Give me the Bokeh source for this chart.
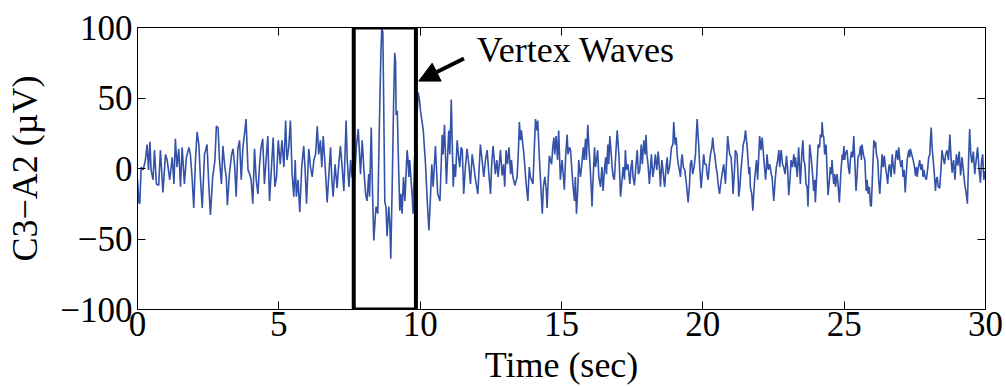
from bokeh.plotting import figure
from bokeh.models import (LinearAxis, FixedTicker, CustomJSTickFormatter, Range1d,
                          BoxAnnotation, Arrow, NormalHead, Label)
from bokeh.embed import file_html
from bokeh.resources import INLINE

# ---- signal: (time in s, C3-A2 in uV) ----
time_s = [
    0.00, 0.05, 0.08, 0.13, 0.20, 0.28, 0.34, 0.39, 0.44, 0.48, 0.55, 0.60, 0.67, 0.75, 0.81, 0.90,
    0.99, 1.05, 1.14, 1.23, 1.29, 1.34, 1.40, 1.46, 1.52, 1.58, 1.66, 1.73, 1.82, 1.87, 1.93, 1.99,
    2.05, 2.11, 2.17, 2.23, 2.29, 2.37,
    2.41, 2.46, 2.52, 2.58, 2.66, 2.74, 2.79, 2.85, 2.90, 2.97, 3.02, 3.09, 3.14, 3.18, 3.25, 3.33,
    3.38, 3.44, 3.49, 3.55, 3.61, 3.67, 3.73, 3.80, 3.84, 3.91, 3.97, 4.02, 4.08, 4.14, 4.20, 4.26,
    4.32, 4.37, 4.43, 4.49, 4.55, 4.61, 4.67, 4.74, 4.80, 4.86, 4.92, 4.98, 5.05,
    5.11, 5.18, 5.24, 5.29, 5.35, 5.41, 5.47, 5.53, 5.58, 5.62, 5.68, 5.74, 5.81, 5.88, 5.93, 5.98,
    6.06, 6.12, 6.18, 6.24, 6.30, 6.36, 6.41, 6.47, 6.52, 6.57, 6.64, 6.71, 6.77, 6.83, 6.87, 6.92,
    6.99, 7.06, 7.12, 7.18, 7.24, 7.30, 7.38,
    7.42, 7.48, 7.54, 7.59, 7.68, 7.74, 7.81, 7.89, 7.95, 8.01, 8.07, 8.12, 8.18, 8.21, 8.27, 8.31,
    8.36, 8.42, 8.44, 8.50, 8.56, 8.61, 8.64, 8.68, 8.71, 8.75, 8.79, 8.83, 8.87, 8.89, 8.93, 8.96,
    9.01, 9.06, 9.10, 9.13, 9.15, 9.19, 9.21, 9.24, 9.28, 9.32, 9.36, 9.41, 9.46, 9.50, 9.54, 9.57,
    9.60, 9.63, 9.67, 9.72, 9.75, 9.80, 9.86, 9.93, 9.98, 10.01,
    10.11, 10.19, 10.25, 10.31, 10.37, 10.41, 10.46, 10.54, 10.62, 10.70, 10.78, 10.81, 10.86, 10.93,
    11.01, 11.05, 11.10, 11.17, 11.21, 11.25, 11.31, 11.36, 11.40, 11.45, 11.49, 11.54, 11.60, 11.66,
    11.72, 11.78, 11.84, 11.90, 11.96, 12.04, 12.13, 12.19, 12.25, 12.31, 12.37, 12.43, 12.49, 12.53,
    12.58, 12.66,
    12.71, 12.76, 12.84, 12.90, 12.95, 12.99, 13.04, 13.09, 13.14, 13.20, 13.23, 13.28, 13.35, 13.43,
    13.48, 13.51, 13.55, 13.58, 13.67, 13.75, 13.81, 13.86, 13.90, 13.99, 14.03, 14.08, 14.13, 14.16,
    14.22, 14.27, 14.32, 14.36, 14.41, 14.46, 14.49, 14.53, 14.57, 14.65, 14.69, 14.73, 14.76, 14.81,
    14.86, 14.90, 14.96, 15.02, 15.07, 15.10, 15.15, 15.20, 15.23, 15.28,
    15.32, 15.36, 15.41, 15.46, 15.49, 15.53, 15.58, 15.61, 15.67, 15.72, 15.77, 15.80, 15.85, 15.88,
    15.93, 15.97, 16.00, 16.05, 16.08, 16.12, 16.17, 16.20, 16.24, 16.28, 16.32, 16.38, 16.43, 16.47,
    16.52, 16.56, 16.59, 16.64, 16.67, 16.71, 16.76, 16.79, 16.83, 16.87, 16.92, 16.97, 17.03, 17.09,
    17.13, 17.18, 17.23, 17.26, 17.30, 17.35, 17.42, 17.46, 17.50, 17.53, 17.58, 17.63, 17.68, 17.72,
    17.77, 17.82, 17.86, 17.91, 17.96,
    17.99, 18.02, 18.06, 18.11, 18.15, 18.18, 18.23, 18.28, 18.32, 18.37, 18.42, 18.47, 18.50, 18.55,
    18.58, 18.62, 18.65, 18.70, 18.74, 18.77, 18.82, 18.85, 18.89, 18.94, 18.97, 19.02, 19.06, 19.09,
    19.13, 19.17, 19.21, 19.24, 19.27, 19.31, 19.36, 19.42, 19.48, 19.53, 19.56, 19.60, 19.64, 19.69,
    19.74, 19.77, 19.80, 19.83, 19.86, 19.89, 19.94, 19.99, 20.03, 20.07, 20.12, 20.15, 20.19, 20.23,
    20.27, 20.32, 20.35, 20.39, 20.42, 20.47, 20.51, 20.54, 20.59,
    20.62, 20.68, 20.74, 20.80, 20.85, 20.88, 20.92, 20.95, 21.00, 21.04, 21.07, 21.12, 21.15, 21.21,
    21.25, 21.27, 21.31, 21.35, 21.39, 21.43, 21.47, 21.51, 21.57, 21.63, 21.66, 21.68, 21.73, 21.77,
    21.80, 21.84, 21.90, 21.94, 21.98, 22.01, 22.06, 22.10, 22.16, 22.22, 22.25, 22.27, 22.32, 22.37,
    22.42, 22.45, 22.51, 22.56, 22.60, 22.65, 22.69, 22.72, 22.77, 22.82, 22.86, 22.91, 22.96, 23.00,
    23.04, 23.09, 23.12, 23.17, 23.22, 23.26,
    23.28, 23.34, 23.39, 23.45, 23.50, 23.54, 23.57, 23.61, 23.65, 23.69, 23.72, 23.76, 23.78, 23.82,
    23.84, 23.89, 23.92, 23.96, 23.98, 24.03, 24.08, 24.13, 24.16, 24.20, 24.22, 24.25, 24.28, 24.31,
    24.36, 24.40, 24.43, 24.48, 24.51, 24.55, 24.57, 24.61, 24.63, 24.67, 24.69, 24.75, 24.79, 24.83,
    24.88, 24.93, 24.96, 24.99, 25.02, 25.04, 25.10, 25.15, 25.19, 25.22, 25.26, 25.30, 25.34, 25.38,
    25.42, 25.46, 25.49, 25.54, 25.58, 25.61, 25.63, 25.68, 25.73, 25.78, 25.81, 25.85, 25.89, 25.93,
    25.96, 26.00, 26.05, 26.08, 26.11, 26.14, 26.19, 26.22, 26.26, 26.31, 26.34, 26.38, 26.42, 26.46,
    26.50, 26.54, 26.58, 26.61, 26.66, 26.70, 26.73, 26.78, 26.81, 26.85, 26.90, 26.93, 26.97, 27.01,
    27.05, 27.08, 27.12, 27.16, 27.19, 27.23, 27.26, 27.29, 27.32, 27.34, 27.39, 27.44, 27.49, 27.52,
    27.56, 27.58, 27.63, 27.67, 27.72, 27.76, 27.79, 27.82, 27.86, 27.91, 27.96, 27.99, 28.03, 28.05,
    28.08, 28.11, 28.15, 28.19, 28.23, 28.26, 28.29, 28.33, 28.38, 28.43, 28.46, 28.50, 28.55, 28.59,
    28.64, 28.69, 28.74,
    28.78, 28.82, 28.87, 28.92, 28.97, 29.02, 29.07, 29.12, 29.17, 29.22, 29.27, 29.32, 29.36, 29.40,
    29.44, 29.48, 29.52, 29.57, 29.62, 29.67, 29.72, 29.77, 29.82, 29.86, 29.90, 29.94, 29.98, 30.00,
]
c3_a2_uv = [
    -8, -24, -25, 1, -1, 6, 17, -1, 19, -1, -8, 13, -11, -12, 13, -17,
    10, 6, -8, 8, -11, 21, 1, 14, -13, 15, -11, 8, 15, 10, -6, -28,
    6, 26, 17, -8, -28, 10,
    13, 17, -11, -33, -6, 6, 30, 29, 6, -11, 16, 1, -6, -26, -4, 10,
    14, 1, -20, 14, 20, -8, 15, 27, 35, -1, -4, -8, -25, 14, -8, -18,
    3, 15, 21, -11, 6, 23, -23, 1, 22, -13, -6, 20, 3,
    20, 1, 34, 6, 15, 34, -4, -20, 6, -20, -8, -31, 1, 16, -1, -25,
    14, 1, -6, 6, 10, 30, 10, 20, 1, 23, 1, -24, -4, 15, -6, -20,
    3, -14, 3, 16, 1, -16, 34,
    6, -13, 6, -6, -8, 15, 28, -4, 20, -1, -18, -23, -4, -20, 29, -13,
    -51, -32, -27, -32, 34, 81, 99, 97, 46, -24, -27, -48, -34, -27, -41, -64,
    -13, 46, 82, 76, 38, 41, 24, -1, -30, -18, -32, -6, -23, -4, 13, 6,
    -6, 6, -6, -20, -32, 6, 27, 54, 48, 41,
    27, 3, -23, -44, -18, 3, -13, 16, -18, -23, 24, 10, 31, -11,
    27, 10, 49, -13, 3, -6, 20, 8, 1, 15, 13, -18, 1, 14,
    3, -11, 10, 1, -8, -18, 17, 6, -6, 6, 13, -4, -18, 3,
    16, -4,
    6, -6, 13, -5, 3, -13, 13, 3, 15, -4, 6, -6, -12, -6,
    15, 33, 20, 27, 10, -11, -23, 1, -6, -11, 10, 35, 27, 34,
    6, -13, -32, -13, -6, -15, -28, -8, 9, 3, 15, 22, 10, 23,
    6, 27, -8, 6, -6, -15, 10, 24, 10, 15,
    13, 1, -13, -23, -6, -32, -13, 6, -6, 3, 15, 6, 21, 6,
    31, 15, 6, -13, -27, -6, 15, 1, 6, 13, -6, -13, 1, -16,
    -1, 8, -4, 17, 3, 23, 10, 1, -6, -8, 10, 27, 10, -20,
    -11, 1, -8, 13, -1, 3, -11, 1, 6, -6, -12, 1, 13, -4,
    -1, 17, 3, 20, 10,
    24, 10, 3, -11, 1, 10, -6, 1, 10, -1, 12, -1, -13, 6,
    1, -8, -13, 1, 8, -4, 1, 6, 15, 17, 33, 17, 22, 10,
    3, -1, -6, 6, 10, 1, -1, -11, -24, -11, 3, 6, -4, 1,
    10, 24, 35, 24, 15, 1, -14, -1, 10, 3, 3, -4, -8, 3,
    10, 15, 22, 13, 10, 1, -4, -11, -18,
    -13, -4, 3, -11, 10, 23, 15, 10, 8, -4, -18, -1, 13, 10,
    -6, -20, -13, -1, 8, 17, 20, 27, 15, -4, 1, -13, -18, -30,
    -18, -6, 6, -8, 10, 23, 13, 22, 6, -8, 1, 10, -1, 3,
    -4, -6, -23, -8, 1, 6, 13, 1, 13, 3, 1, -4, 9, -1,
    -19, -6, 6, 1, 10, 1,
    8, -6, 15, -11, 10, 20, 6, 3, -11, -13, -27, -1, 17, 10,
    6, -6, -16, -8, -24, -4, 17, 15, 24, 22, 33, 24, 22, 10,
    17, -4, -19, -8, 1, -4, 6, -6, -11, -4, -13, -4, -13, -24,
    -4, 10, 6, 16, 6, 10, 13, 1, -4, 6, 12, 8, 23, 3,
    -16, -4, 8, 10, 16, 6, 17, 10, 6, -16, -8, -18, -13, -26,
    -27, -6, 20, 15, 19, 10, 6, -8, -18, -1, 10, 1, 9, 1,
    -4, -11, 1, 3, -6, 10, 3, -4, 6, 13, 6, 15, 6, 1,
    6, -6, -1, -17, -6, 6, 10, 13, 8, 14, 10, 6, 1, -5,
    1, -6, 1, 6, -1, 3, -6, -1, -6, -8, 1, 8, 10, 20,
    29, 15, 6, -4, -16, -8, -6, -13, -14, 1, 13, 8, 3, 10,
    13, 6, 24,
    8, -3, 6, -8, 10, 2, 12, -5, 8, -2, -12, -18, -25, 5,
    28, 10, 4, 12, -4, 6, 15, 0, -10, 5, 10, -8, -2, -4,
]

x_ticks = [0, 5, 10, 15, 20, 25, 30]
y_ticks = [-100, -50, 0, 50, 100]
y_tick_labels = {-100: "\u2212100", -50: "\u221250", 0: "0", 50: "50", 100: "100"}

# annotation (vertex-wave box and arrow), in data units
box_t_start, box_t_end = 7.65, 9.85
arrow_tail = (11.55, 78)
arrow_head = (9.95, 62)
note_text = "Vertex Waves"
note_pos = (12.0, 84)

FONT = "Liberation Serif"

p = figure(width=1006, height=387, output_backend="svg", toolbar_location=None,
           x_range=Range1d(0, 30), y_range=Range1d(-100, 100),
           min_border_left=137, min_border_right=21, min_border_top=27, min_border_bottom=78)
p.background_fill_color = "white"
p.border_fill_color = "white"
p.outline_line_color = "black"
p.outline_line_width = 1
p.grid.visible = False

p.line(time_s, c3_a2_uv, line_color="#3352a8", line_width=1.6)

def style_axis(ax, ticks):
    ax.ticker = FixedTicker(ticks=ticks)
    ax.axis_line_color = "black"
    ax.major_tick_in = 8
    ax.major_tick_out = 0
    ax.major_tick_line_color = "black"
    ax.minor_tick_line_color = None
    ax.major_label_text_font = FONT
    ax.major_label_text_font_size = "35px"
    ax.major_label_text_color = "black"
    ax.axis_label_text_font = FONT
    ax.axis_label_text_font_size = "36px"
    ax.axis_label_text_font_style = "normal"
    ax.axis_label_text_color = "black"

xa = p.xaxis[0]
style_axis(xa, x_ticks)
xa.axis_label = "Time (sec)"
xa.major_label_standoff = 2
xa.axis_label_standoff = 6

ya = p.yaxis[0]
style_axis(ya, y_ticks)
ya.major_label_overrides = y_tick_labels
ya.axis_label = "C3\u2212A2 (\u00b5V)"
ya.major_label_standoff = 5
ya.axis_label_standoff = 12

blank = CustomJSTickFormatter(code="return ''")
top = LinearAxis(formatter=blank)
style_axis(top, x_ticks)
p.add_layout(top, "above")
right = LinearAxis(formatter=blank)
style_axis(right, y_ticks)
p.add_layout(right, "right")

p.add_layout(BoxAnnotation(left=box_t_start, right=box_t_end, bottom=-100, top=100,
                           fill_color=None, fill_alpha=0, line_color="black",
                           line_alpha=1.0, line_width=4))
p.add_layout(Arrow(x_start=arrow_tail[0], y_start=arrow_tail[1], x_end=arrow_head[0], y_end=arrow_head[1],
                   line_color="black", line_width=4,
                   end=NormalHead(size=20, fill_color="black", line_color="black", line_width=1)))
p.add_layout(Label(x=note_pos[0], y=note_pos[1], text=note_text, text_font=FONT,
                   text_font_size="36px", text_color="black", text_baseline="alphabetic"))

open("out.html", "w").write(file_html(p, INLINE))
